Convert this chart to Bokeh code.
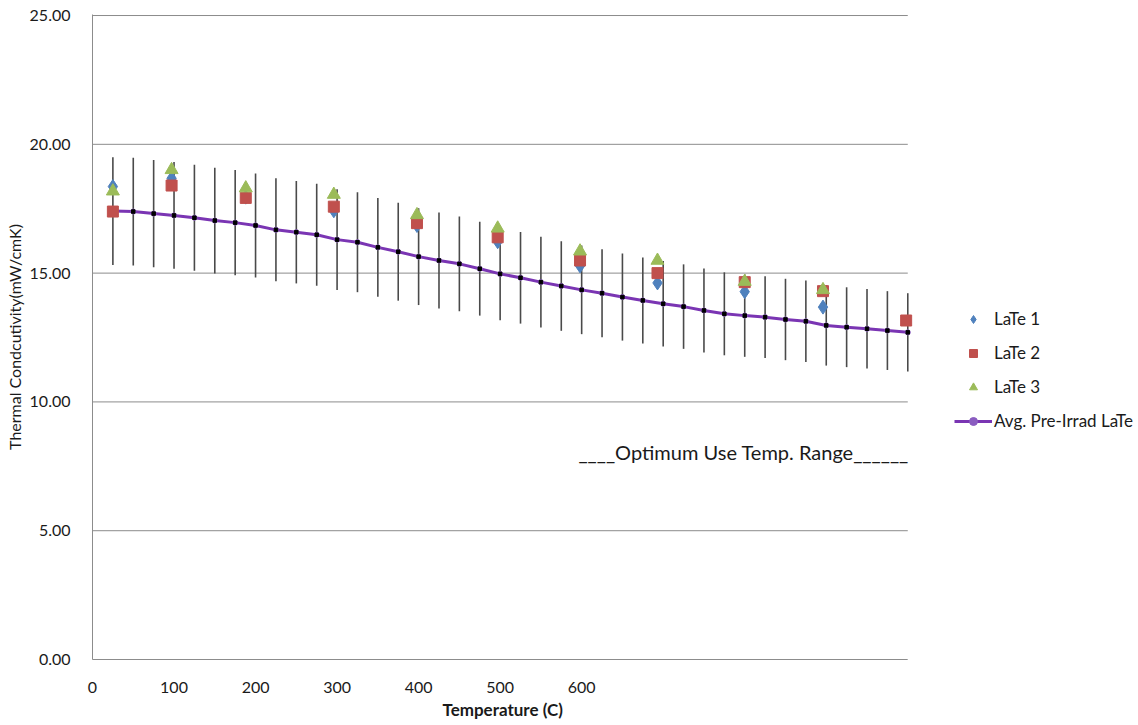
from bokeh.plotting import figure
from bokeh.models import Range1d, FixedTicker, Legend, LegendItem, Label, Title, NumeralTickFormatter
from bokeh.embed import file_html
from bokeh.resources import INLINE

# ---- data ----
avg_temp = [25, 50, 75, 100, 125, 150, 175, 200, 225, 250, 275, 300, 325, 350, 375, 400,
            425, 450, 475, 500, 525, 550, 575, 600, 625, 650, 675, 700, 725, 750, 775, 800,
            825, 850, 875, 900, 925, 950, 975, 1000]
avg_k = [17.41, 17.39, 17.31, 17.24, 17.15, 17.04, 16.96, 16.85, 16.68, 16.59, 16.49, 16.30,
         16.20, 16.00, 15.83, 15.64, 15.49, 15.36, 15.17, 14.97, 14.82, 14.65, 14.50, 14.35,
         14.22, 14.07, 13.94, 13.81, 13.70, 13.55, 13.42, 13.35, 13.29, 13.20, 13.13, 12.97,
         12.90, 12.84, 12.77, 12.70]
avg_err = [2.09, 2.09, 2.08, 2.07, 2.06, 2.05, 2.04, 2.02, 2.00, 1.99, 1.98, 1.96, 1.94, 1.92,
           1.90, 1.88, 1.86, 1.84, 1.82, 1.80, 1.78, 1.76, 1.74, 1.72, 1.71, 1.69, 1.67, 1.66,
           1.64, 1.63, 1.61, 1.60, 1.59, 1.58, 1.58, 1.56, 1.55, 1.54, 1.53, 1.52]

late1_t = [25, 97, 188, 296, 398, 497, 598, 693, 800, 896]
late1_k = [18.36, 18.68, 17.95, 17.42, 16.85, 16.22, 15.28, 14.62, 14.28, 13.68]
late2_t = [25, 97, 188, 296, 398, 497, 598, 693, 800, 896, 998]
late2_k = [17.39, 18.40, 17.92, 17.58, 16.94, 16.39, 15.49, 15.00, 14.65, 14.30, 13.16]
late3_t = [25, 97, 188, 296, 398, 497, 598, 693, 800, 896]
late3_k = [18.18, 19.01, 18.30, 18.05, 17.26, 16.74, 15.85, 15.49, 14.67, 14.35]

x_ticks = [0, 100, 200, 300, 400, 500, 600]
y_ticks = [0, 5, 10, 15, 20, 25]
x_min, x_max = 0, 1000

FONT = "Lato"
GRID = "#8c8c8c"
TXT = "#1a1a1a"

# the frame is extended to the right edge so that the legend (drawn inside it) is not clipped;
# the axis line and gridlines are bounded to the 0..1000 data extent.
p = figure(width=1138, height=725, output_backend="svg", toolbar_location=None,
           x_range=Range1d(0, 1283), y_range=Range1d(0, 25.04),
           min_border_left=92, min_border_right=0, min_border_top=14, min_border_bottom=66)
p.outline_line_color = None
p.background_fill_color = "white"
p.border_fill_color = "white"

# axes
p.xaxis.ticker = FixedTicker(ticks=x_ticks)
p.xaxis.bounds = (x_min, x_max)
p.yaxis.ticker = FixedTicker(ticks=y_ticks)
p.yaxis.formatter = NumeralTickFormatter(format="0.00")
for ax in (p.xaxis[0], p.yaxis[0]):
    ax.axis_line_color = GRID
    ax.axis_line_width = 1
    ax.major_tick_line_color = None
    ax.minor_tick_line_color = None
    ax.major_label_text_font = FONT
    ax.major_label_text_font_size = "16px"
    ax.major_label_text_color = TXT
    ax.axis_label_text_font = FONT
    ax.axis_label_text_color = TXT
p.xaxis.major_label_standoff = 16
p.yaxis.major_label_standoff = 16
p.yaxis.axis_label = "Thermal Condcutivity(mW/cmK)"
p.yaxis.axis_label_text_font_style = "normal"
p.yaxis.axis_label_text_font_size = "16px"
p.yaxis.axis_label_standoff = 3

# x-axis title, left-aligned with an offset so it sits centred under the data region
p.add_layout(Title(text="Temperature (C)", align="left", offset=350, standoff=3,
                   text_font=FONT, text_font_size="17px", text_font_style="bold",
                   text_color=TXT), "below")

p.xgrid.grid_line_color = None
p.ygrid.grid_line_color = None
# horizontal gridlines over the data extent
p.segment(x0=[x_min] * len(y_ticks), y0=y_ticks, x1=[x_max] * len(y_ticks), y1=y_ticks,
          line_color=GRID, line_width=1)

# error bars
lo = [k - e for k, e in zip(avg_k, avg_err)]
hi = [k + e for k, e in zip(avg_k, avg_err)]
p.segment(x0=avg_temp, y0=lo, x1=avg_temp, y1=hi, line_color="#4a4a4a", line_width=1.6)

# average line
PURPLE = "#7a35b3"
line_r = p.line(avg_temp, avg_k, line_color=PURPLE, line_width=3)
pm_r = p.scatter(avg_temp, avg_k, marker="circle", size=5, fill_color="#8a5cc0",
                 line_color="#8a5cc0")
p.scatter(avg_temp, avg_k, marker="square", size=3.5, fill_color="black", line_color="black")

# sample series
r1 = p.scatter(late1_t, late1_k, marker="diamond", size=14, fill_color="#4f81bd",
               line_color="#4f81bd")
r2 = p.scatter(late2_t, late2_k, marker="square", size=11, fill_color="#c0504d",
               line_color="#c0504d")
r3 = p.scatter(late3_t, late3_k, marker="triangle", size=13, fill_color="#9bbb59",
               line_color="#9bbb59")

# annotation
p.add_layout(Label(x=596, y=8.05, text="____Optimum Use Temp. Range______",
                   text_font=FONT, text_font_size="20px", text_color=TXT,
                   text_baseline="middle", text_align="left"))

legend = Legend(items=[LegendItem(label="LaTe 1", renderers=[r1]),
                       LegendItem(label="LaTe 2", renderers=[r2]),
                       LegendItem(label="LaTe 3", renderers=[r3]),
                       LegendItem(label="Avg. Pre-Irrad LaTe", renderers=[line_r, pm_r])],
                location=(862, 228), orientation="vertical",
                glyph_width=38, glyph_height=20, label_height=20, label_standoff=2,
                spacing=13, padding=0, margin=0,
                border_line_color=None, background_fill_alpha=0,
                label_text_font=FONT, label_text_font_size="17px", label_text_color=TXT)
p.add_layout(legend, "center")

open("out.html", "w").write(file_html(p, INLINE))
